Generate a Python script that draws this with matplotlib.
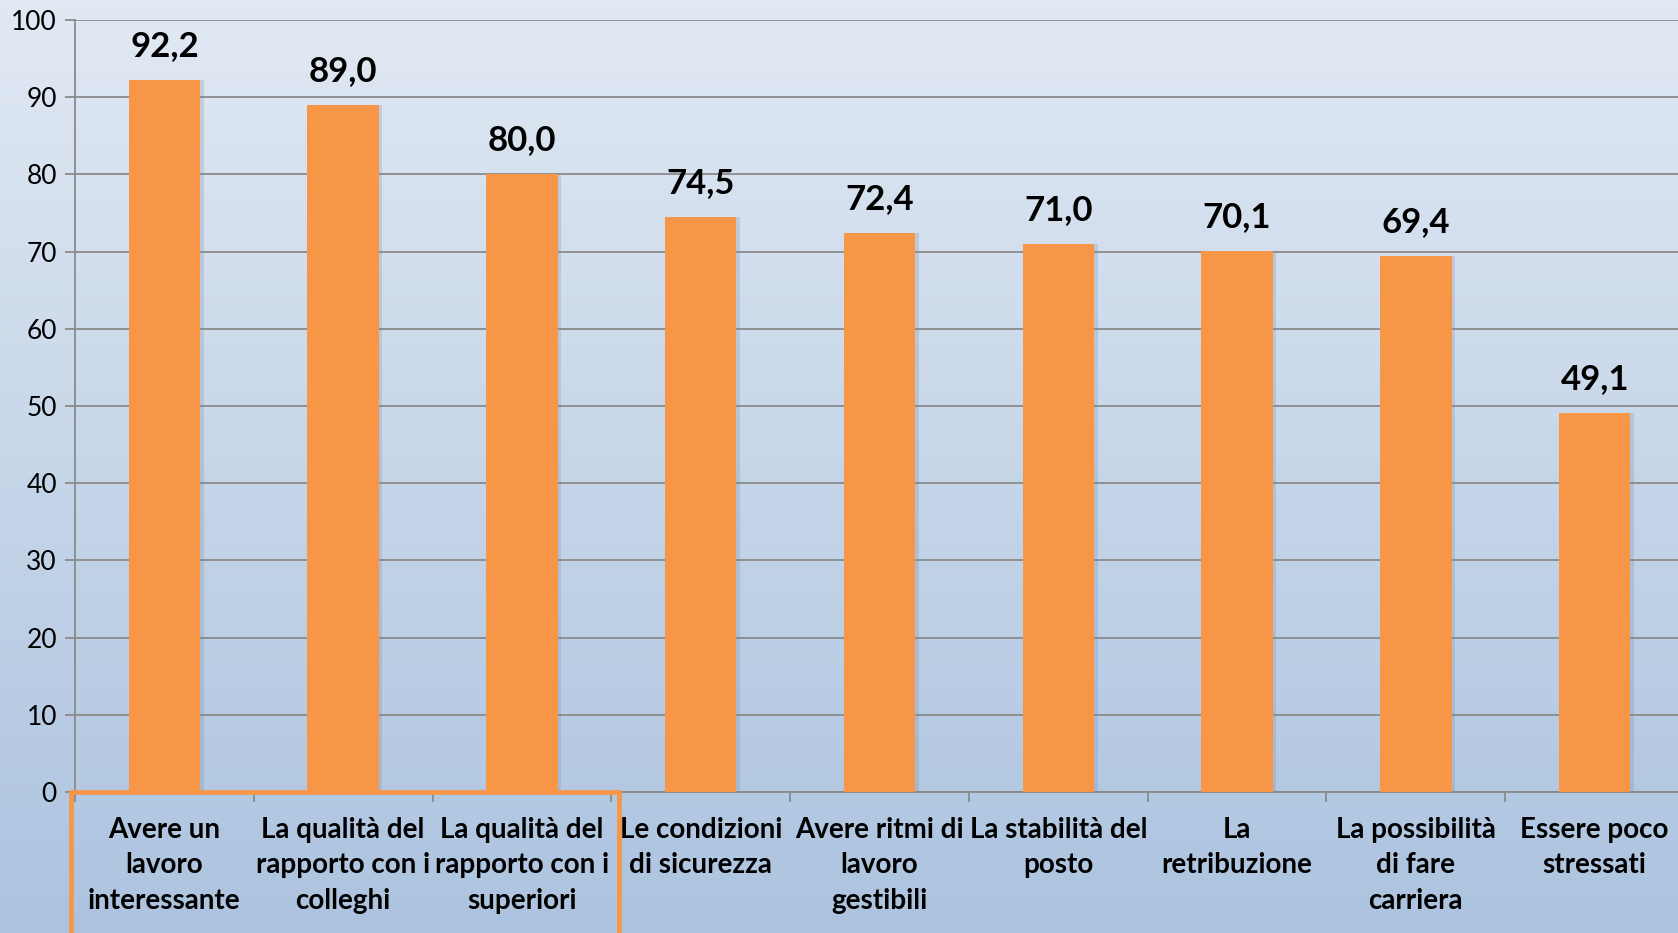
import matplotlib
matplotlib.use('Agg')
import matplotlib.pyplot as plt
from matplotlib.patches import Rectangle
import numpy as np

categories = [
    'Avere un\nlavoro\ninteressante',
    'La qualità del\nrapporto con i\ncolleghi',
    'La qualità del\nrapporto con i\nsuperiori',
    'Le condizioni\ndi sicurezza',
    'Avere ritmi di\nlavoro\ngestibili',
    'La stabilità del\nposto',
    'La\nretribuzione',
    'La possibilità\ndi fare\ncarriera',
    'Essere poco\nstressati',
]
values = [92.2, 89.0, 80.0, 74.5, 72.4, 71.0, 70.1, 69.4, 49.1]
yticks = [0, 10, 20, 30, 40, 50, 60, 70, 80, 90, 100]

plt.rcParams['font.family'] = ['Lato', 'DejaVu Sans']

W, H = 1678, 933
fig = plt.figure(figsize=(W / 100, H / 100), dpi=100)

# background gradient
bg = fig.add_axes([0, 0, 1, 1], zorder=0)
grad = np.linspace(0, 1, 256).reshape(-1, 1)
top = np.array([0xe1, 0xe9, 0xf3]) / 255
bot = np.array([0xac, 0xc3, 0xdf]) / 255
img = top + (bot - top) * grad[:, :, None]
bg.imshow(img, aspect='auto', extent=[0, 1, 0, 1])
bg.axis('off')

# plot area runs a little past the right edge of the figure
ax = fig.add_axes([75 / W, 1 - 792 / H, 1609 / W, (792 - 20) / H], zorder=1)
ax.patch.set_alpha(0)

x = np.arange(len(values))
# soft shadow behind bars
ax.bar(x + 0.02, values, width=0.40, color='#7a8aa0', alpha=0.25, zorder=2)
bars = ax.bar(x, values, width=0.40, color='#f79646', zorder=3)

for xi, v in zip(x, values):
    ax.annotate(f'{v:.1f}'.replace('.', ','), (xi, v), xytext=(0, 13),
                textcoords='offset points', ha='center', va='bottom',
                fontsize=25, fontweight='bold', color='black')

ax.set_xlim(-0.5, len(values) - 0.5)
ax.set_ylim(0, 100)
ax.set_yticks(yticks)
ax.set_yticklabels([str(t) for t in yticks], fontsize=19)
ax.yaxis.grid(True, color='#8a8a8a', linewidth=1.3, zorder=1)
ax.set_axisbelow(True)

ax.set_xticks(x)
ax.set_xticklabels(categories, fontsize=20, fontweight='bold', linespacing=1.45)
ax.tick_params(axis='x', length=0, pad=18)
ax.set_xticks(np.arange(len(values) + 1) - 0.5, minor=True)
ax.tick_params(axis='x', which='minor', length=7, color='#8a8a8a', width=1.3)
ax.tick_params(axis='y', length=7, color='#8a8a8a', width=1.3, pad=6)

for s in ['top', 'right']:
    ax.spines[s].set_visible(False)
ax.spines['left'].set_color('#8a8a8a')
ax.spines['bottom'].set_color('#8a8a8a')
ax.spines['left'].set_linewidth(1.3)
ax.spines['bottom'].set_linewidth(1.3)

# orange highlight box around first three labels
box = Rectangle((71 / W, -0.01), (619 - 71) / W, 1 - 792 / H + 0.01,
                transform=fig.transFigure, fill=False, edgecolor='#f79646',
                linewidth=3.4, zorder=5)
fig.patches.append(box)

fig.savefig('out.png', dpi=100)
